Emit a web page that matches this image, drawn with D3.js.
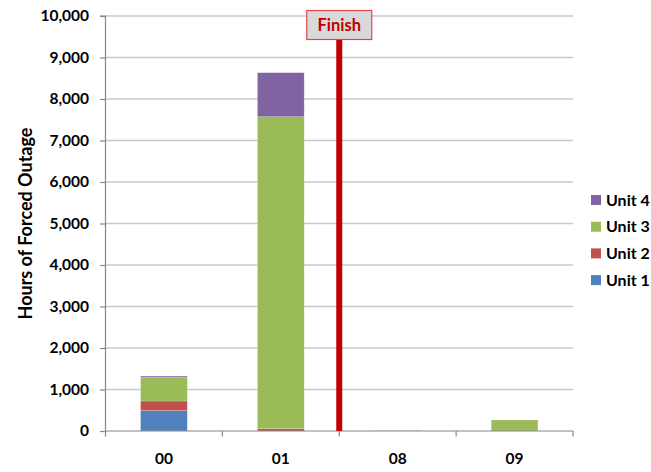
<!DOCTYPE html>
<html>
<head>
<meta charset="utf-8">
<script src="https://cdn.jsdelivr.net/npm/d3@7"></script>
<style>
  html, body { margin: 0; padding: 0; background: #fff; }
  svg { display: block; font-family: Lato, "Liberation Sans", sans-serif; }
</style>
</head>
<body>
<svg id="chart" width="651" height="472"></svg>
<script>
const categories = ["00", "01", "08", "09"];
const seriesNames = ["Unit 1", "Unit 2", "Unit 3", "Unit 4"];
const unit1 = [490, 0, 0, 0];
const unit2 = [233, 55, 0, 0];
const unit3 = [578, 7518, 0, 265];
const unit4 = [24, 1061, 8, 0];
const seriesColors = ["#4f81bd", "#c0504d", "#9bbb59", "#8064a2"];
const yTicks = [0, 1000, 2000, 3000, 4000, 5000, 6000, 7000, 8000, 9000, 10000];
const yMax = 10000;
const finishLabel = "Finish";
const finishAfter = "01";
const yTitle = "Hours of Forced Outage";

const seriesValues = [unit1, unit2, unit3, unit4];
const table = categories.map((c, i) => {
  const row = { cat: c };
  seriesNames.forEach((s, j) => row[s] = seriesValues[j][i]);
  return row;
});
const stacked = d3.stack().keys(seriesNames)(table);

const svg = d3.select("#chart");
const margin = { left: 105.5, right: 651 - 573, top: 16, bottom: 472 - 431 };
const W = 651, H = 472;

const x = d3.scaleBand().domain(categories).range([margin.left, W - margin.right]).paddingInner(0.6).paddingOuter(0.3);
const xb = d3.scaleBand().domain(categories).range([margin.left, W - margin.right]).padding(0);
const y = d3.scaleLinear().domain([0, yMax]).range([H - margin.bottom, margin.top]);

// gridlines
svg.append("g").selectAll("line").data(yTicks.filter(t => t > 0)).join("line")
  .attr("x1", margin.left).attr("x2", W - margin.right)
  .attr("y1", d => y(d)).attr("y2", d => y(d))
  .attr("stroke", "#c8c8c8").attr("stroke-width", 1.3);

// bars
svg.append("g").selectAll("g").data(stacked).join("g")
  .attr("fill", (d, i) => seriesColors[i])
  .selectAll("rect").data(d => d).join("rect")
  .attr("x", d => x(d.data.cat))
  .attr("width", x.bandwidth())
  .attr("y", d => y(d[1]))
  .attr("height", d => Math.max(0, y(d[0]) - y(d[1])))
  .attr("stroke", "rgba(255,255,255,0.35)").attr("stroke-width", 0.6);

// y axis
const yAxis = d3.axisLeft(y).tickValues(yTicks).tickSize(5.5).tickPadding(11).tickFormat(d3.format(","));
const gy = svg.append("g").attr("transform", `translate(${margin.left},0)`).call(yAxis);
gy.select(".domain").attr("stroke", "#868686").attr("stroke-width", 1.2).attr("d", `M-5.5,${y(yMax)}H0V${y(0)}`);
gy.selectAll(".tick line").attr("stroke", "#868686").attr("stroke-width", 1.2);
gy.selectAll(".tick text").attr("fill", "#000").attr("font-size", 15.5).attr("font-weight", "bold")
  .attr("font-family", "Lato, 'Liberation Sans', sans-serif");

// x axis
const xAxis = d3.axisBottom(x).tickSize(0).tickPadding(22);
const gx = svg.append("g").attr("transform", `translate(0,${y(0)})`).call(xAxis);
gx.select(".domain").attr("stroke", "#868686").attr("stroke-width", 1.2).attr("d", `M${margin.left},0H${W - margin.right}`);
gx.selectAll(".tick text").attr("fill", "#000").attr("font-size", 15.5).attr("font-weight", "bold")
  .attr("font-family", "Lato, 'Liberation Sans', sans-serif");
// category boundary ticks
const bounds = categories.map(c => xb(c)).concat([W - margin.right]);
svg.append("g").selectAll("line").data(bounds).join("line")
  .attr("x1", d => d).attr("x2", d => d)
  .attr("y1", y(0)).attr("y2", y(0) + 5.5)
  .attr("stroke", "#868686").attr("stroke-width", 1.2);

// y title
svg.append("text")
  .attr("transform", `translate(31.5,${(y(0) + y(yMax)) / 2}) rotate(-90)`)
  .attr("text-anchor", "middle")
  .attr("font-size", 18).attr("font-weight", "bold").attr("fill", "#000")
  .text(yTitle);

// finish marker
const fx = xb(finishAfter) + xb.bandwidth();
svg.append("line").attr("x1", fx).attr("x2", fx).attr("y1", 40).attr("y2", y(0))
  .attr("stroke", "#c00000").attr("stroke-width", 6);
const fg = svg.append("g");
fg.append("rect").attr("x", fx - 32.5).attr("y", 10.5).attr("width", 65).attr("height", 29)
  .attr("fill", "#d9d9d9").attr("stroke", "#e0474c").attr("stroke-width", 1.2);
fg.append("text").attr("x", fx).attr("y", 25).attr("dy", "0.35em").attr("text-anchor", "middle")
  .attr("font-size", 16.5).attr("font-weight", "bold").attr("fill", "#c00000").text(finishLabel);

// legend
const legendOrder = seriesNames.map((s, i) => ({ s, c: seriesColors[i] })).reverse();
const lg = svg.append("g").selectAll("g").data(legendOrder).join("g")
  .attr("transform", (d, i) => `translate(591,${200 + i * 26.7})`);
lg.append("rect").attr("x", 0).attr("y", -5).attr("width", 10).attr("height", 10).attr("fill", d => d.c);
lg.append("text").attr("x", 15).attr("dy", "0.35em").attr("font-size", 16).attr("font-weight", "bold")
  .attr("fill", "#000").text(d => d.s);
</script>
</body>
</html>
